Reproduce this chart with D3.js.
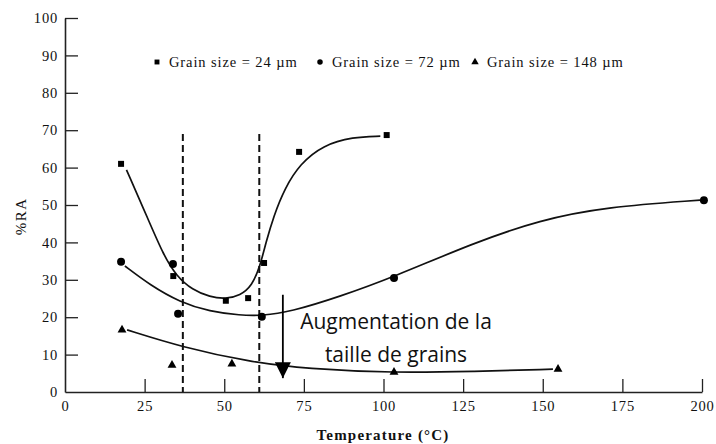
<!DOCTYPE html>
<html>
<head>
<meta charset="utf-8">
<script src="https://cdn.jsdelivr.net/npm/d3@7/dist/d3.min.js"></script>
<style>
  body { margin: 0; background: #fff; }
  svg { display: block; }
  text { font-family: "Liberation Serif", "DejaVu Serif", serif; fill: #111; }
</style>
</head>
<body>
<div id="chart"></div>
<script>
// measured points, per grain size
const pts24 = [[17.6, 61], [34, 31], [50.5, 24.4], [57.5, 25.1], [62.5, 34.5], [73.5, 64.2], [101, 68.7]];
const pts72 = [[17.6, 34.8], [33.9, 34.2], [35.5, 20.9], [61.8, 20.1], [103.3, 30.5], [200.6, 51.3]];
const pts148 = [[17.9, 16.6], [33.6, 7.2], [52.4, 7.5], [103.3, 5.3], [154.8, 6.1]];

// fitted curves
const fit24 = [[19.3, 59.4], [26.2, 46], [31, 36.5], [35, 31], [40, 27.3], [45.5, 25.4], [50.5, 24.9], [55, 25.8],
  [58.7, 28.4], [61.2, 33.5], [63.1, 40], [65.5, 47], [69, 54.5], [73.8, 61], [81, 66], [90.4, 68.2], [99, 68.4]];
const fit72 = [[18.8, 33.7], [26.7, 28.6], [36.1, 24], [45.5, 21.5], [55, 20.5], [61.9, 20.4], [70.6, 21.4],
  [86.3, 25.5], [103.3, 30.8], [128.1, 39.8], [149.1, 46], [170.2, 49.5], [199.4, 51.3]];
const fit148 = [[19.5, 16.6], [36.7, 12], [58.1, 8], [76, 6.2], [103.3, 5.1], [128.1, 5.5], [153.2, 6.1]];

const dashedX = [37, 61];
const dashedTop = 69;
const arrowX = 68.4, arrowFrom = 26, arrowTo = 3.7;

const xTicks = [0, 25, 50, 75, 100, 125, 150, 175, 200];
const yTicks = [0, 10, 20, 30, 40, 50, 60, 70, 80, 90, 100];

const legendItems = [
  { label: "Grain size = 24 µm", symbol: d3.symbolSquare },
  { label: "Grain size = 72 µm", symbol: d3.symbolCircle },
  { label: "Grain size = 148 µm", symbol: d3.symbolTriangle }
];

const width = 716, height = 444;
const x = d3.scaleLinear().domain([0, 200]).range([65, 702]);
const y = d3.scaleLinear().domain([0, 100]).range([392, 18]);

const svg = d3.select("#chart").append("svg")
  .attr("width", width)
  .attr("height", height);

// axes - ticks point inwards
const xAxis = svg.append("g")
  .attr("transform", `translate(0,${y(0)})`)
  .call(d3.axisBottom(x).tickValues(xTicks).tickSize(-13).tickPadding(9).tickSizeOuter(0));
const yAxis = svg.append("g")
  .attr("transform", `translate(${x(0)},0)`)
  .call(d3.axisLeft(y).tickValues(yTicks).tickSize(-13).tickPadding(7).tickSizeOuter(0));

[xAxis, yAxis].forEach(a => {
  a.attr("font-family", null).attr("font-size", null);
  a.select(".domain").attr("stroke", "#222").attr("stroke-width", 1.6);
  a.selectAll(".tick line").attr("stroke", "#222").attr("stroke-width", 1.3);
  a.selectAll(".tick text")
    .style("font-size", "14.5px")
    .style("letter-spacing", "0.8px")
    .attr("fill", "#222");
});
// first tick lines overlap the axes, drop them
yAxis.selectAll(".tick").filter(d => d === 0).select("line").remove();
xAxis.selectAll(".tick").filter(d => d === 0).select("line").remove();

// axis titles
svg.append("text")
  .attr("transform", `translate(26,${y(47)}) rotate(-90)`)
  .attr("text-anchor", "middle")
  .style("font-size", "15px")
  .style("letter-spacing", "1.5px")
  .text("%RA");

svg.append("text")
  .attr("x", 383).attr("y", 440)
  .attr("text-anchor", "middle")
  .style("font-size", "15px")
  .style("font-weight", "bold")
  .style("letter-spacing", "1.2px")
  .text("Temperature (°C)");

// dashed verticals
svg.append("g").selectAll("line")
  .data(dashedX)
  .enter().append("line")
  .attr("x1", d => x(d)).attr("x2", d => x(d))
  .attr("y1", y(dashedTop)).attr("y2", y(0))
  .attr("stroke", "#111")
  .attr("stroke-width", 2)
  .attr("stroke-dasharray", "7,4");

// fitted curves
const line = d3.line()
  .x(d => x(d[0]))
  .y(d => y(d[1]))
  .curve(d3.curveBasis);

svg.append("g").selectAll("path")
  .data([fit24, fit72, fit148])
  .enter().append("path")
  .attr("d", line)
  .attr("fill", "none")
  .attr("stroke", "#111")
  .attr("stroke-width", 1.7);

// markers
const series = [
  { data: pts24, symbol: d3.symbolSquare, size: 36 },
  { data: pts72, symbol: d3.symbolCircle, size: 50 },
  { data: pts148, symbol: d3.symbolTriangle, size: 34 }
];
series.forEach(s => {
  svg.append("g").selectAll("path")
    .data(s.data)
    .enter().append("path")
    .attr("transform", d => `translate(${x(d[0])},${y(d[1])})`)
    .attr("d", d3.symbol().type(s.symbol).size(s.size))
    .attr("fill", "#000");
});

// legend
const legendX = [157, 320, 475];
const legend = svg.append("g").selectAll("g")
  .data(legendItems)
  .enter().append("g")
  .attr("transform", (d, i) => `translate(${legendX[i]},62)`);
legend.append("path")
  .attr("d", d => d3.symbol().type(d.symbol).size(24)())
  .attr("fill", "#000");
legend.append("text")
  .attr("x", 12)
  .attr("y", 5)
  .style("font-size", "14.5px")
  .style("letter-spacing", "0.9px")
  .text(d => d.label);

// arrow + annotation
svg.append("defs").append("marker")
  .attr("id", "arrow")
  .attr("viewBox", "0 0 10 10")
  .attr("refX", 10).attr("refY", 5)
  .attr("markerWidth", 16).attr("markerHeight", 16)
  .attr("markerUnits", "userSpaceOnUse")
  .attr("orient", "auto")
  .append("path")
  .attr("d", "M0,0L10,5L0,10Z")
  .attr("fill", "#000");

svg.append("line")
  .attr("x1", x(arrowX)).attr("x2", x(arrowX))
  .attr("y1", y(arrowFrom)).attr("y2", y(arrowTo))
  .attr("stroke", "#000")
  .attr("stroke-width", 1.8)
  .attr("marker-end", "url(#arrow)");

const note = svg.append("text")
  .attr("text-anchor", "middle")
  .style("font-family", "'Open Sans', 'Noto Sans', sans-serif")
  .style("font-size", "21px");
note.append("tspan").attr("x", 396).attr("y", 329).text("Augmentation de la");
note.append("tspan").attr("x", 396).attr("y", 362).text("taille de grains");
</script>
</body>
</html>
